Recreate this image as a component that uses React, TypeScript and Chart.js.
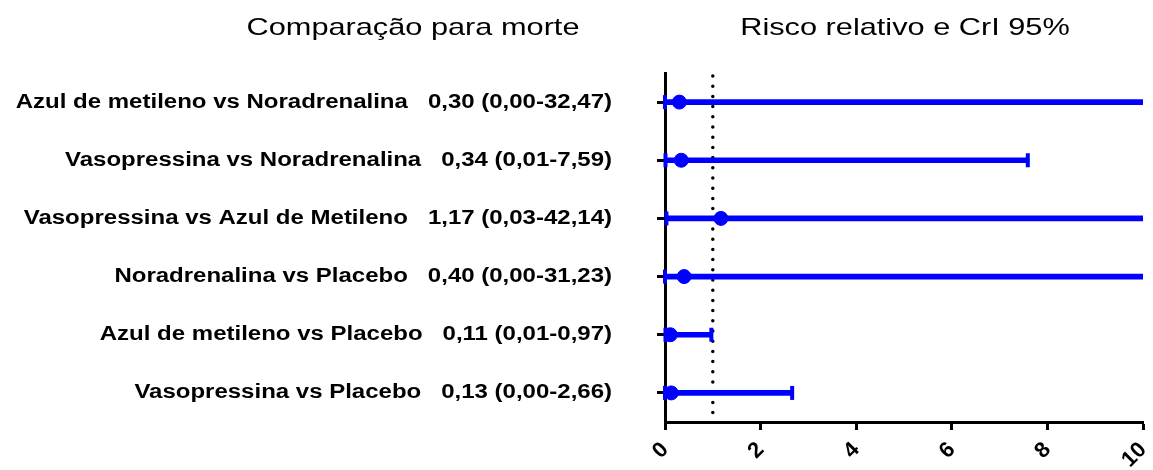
import React, { useEffect, useRef } from "react";
import { Chart, registerables } from "chart.js";

Chart.register(...registerables);

const categories = [
  "Azul de metileno vs Noradrenalina",
  "Vasopressina vs Noradrenalina",
  "Vasopressina vs Azul de Metileno",
  "Noradrenalina vs Placebo",
  "Azul de metileno vs Placebo",
  "Vasopressina vs Placebo",
];
const estimates = [0.3, 0.34, 1.17, 0.4, 0.11, 0.13];
const lowerCI = [0.0, 0.01, 0.03, 0.0, 0.01, 0.0];
const upperCI = [32.47, 7.59, 42.14, 31.23, 0.97, 2.66];
const xMin = 0;
const xMax = 10;
const xStep = 2;
const referenceValue = 1;
const leftTitle = "Comparação para morte";
const rightTitle = "Risco relativo e CrI 95%";

const BLUE = "#0000FF";
const FONT = "'Liberation Sans', Arial, sans-serif";
const Y_TICK_LEN = 8;
const Y_TICK_PAD = 45;
const Y_LABEL_STRETCH = 1.2;

const fmt = (v: number) => v.toFixed(2).replace(".", ",");
const rowLabels = categories.map(
  (c, i) => `${c}   ${fmt(estimates[i])} (${fmt(lowerCI[i])}-${fmt(upperCI[i])})`
);

const drawStretched = (ctx: any, text: string, cx: number, cy: number, sx: number) => {
  ctx.save();
  ctx.translate(cx, cy);
  ctx.scale(sx, 1);
  ctx.fillText(text, 0, 0);
  ctx.restore();
};

const forestPlugin = {
  id: "forest",
  beforeDraw(chart: any) {
    const ys = chart.scales.y;
    if (ys && !ys.__stretched) {
      const orig = ys.drawLabels.bind(ys);
      ys.drawLabels = (area: any) => {
        const ctx = chart.ctx;
        const ax = ys.right - Y_TICK_LEN - Y_TICK_PAD;
        ctx.save();
        ctx.translate(ax, 0);
        ctx.scale(Y_LABEL_STRETCH, 1);
        ctx.translate(-ax, 0);
        orig(area);
        ctx.restore();
      };
      ys.__stretched = true;
    }
  },
  beforeDatasetsDraw(chart: any) {
    const { ctx, chartArea, scales } = chart;
    const x = scales.x.getPixelForValue(referenceValue);
    ctx.save();
    ctx.strokeStyle = "#000";
    ctx.lineWidth = 3.5;
    ctx.lineCap = "round";
    ctx.setLineDash([0, 10.2]);
    ctx.beginPath();
    ctx.moveTo(x, chartArea.top + 3);
    ctx.lineTo(x, chartArea.bottom);
    ctx.stroke();
    ctx.restore();
  },
  afterDatasetsDraw(chart: any) {
    const { ctx, scales } = chart;
    const xs = scales.x;
    const ys = scales.y;
    ctx.save();
    ctx.fillStyle = BLUE;
    categories.forEach((_, i) => {
      const y = ys.getPixelForValue(i);
      [lowerCI[i], upperCI[i]].forEach((v) => {
        if (v >= xMin && v <= xMax) {
          const x = xs.getPixelForValue(v);
          ctx.fillRect(x - 2, y - 7, 4, 14);
        }
      });
    });
    ctx.restore();
  },
  afterDraw(chart: any) {
    const { ctx } = chart;
    ctx.save();
    ctx.fillStyle = "#000";
    ctx.font = `24px ${FONT}`;
    ctx.textAlign = "center";
    ctx.textBaseline = "middle";
    drawStretched(ctx, leftTitle, 413, 28, 1.28);
    drawStretched(ctx, rightTitle, 905, 28, 1.28);
    ctx.restore();
  },
};

export default function App() {
  const ref = useRef<HTMLCanvasElement>(null);
  useEffect(() => {
    if (!ref.current) return;
    const chart = new Chart(ref.current, {
      type: "bar",
      data: {
        labels: rowLabels,
        datasets: [
          {
            type: "line",
            label: "Risco relativo",
            data: estimates,
            showLine: false,
            pointRadius: 7,
            pointBackgroundColor: BLUE,
            pointBorderColor: BLUE,
            pointBorderWidth: 1,
            order: 0,
          } as any,
          {
            type: "bar",
            label: "CrI 95%",
            data: categories.map((_, i) => [lowerCI[i], upperCI[i]]),
            backgroundColor: BLUE,
            borderWidth: 0,
            barThickness: 5,
            order: 1,
          } as any,
        ],
      },
      options: {
        indexAxis: "y",
        responsive: false,
        animation: false,
        layout: { padding: { top: 73, right: 10, left: 0, bottom: 0 } },
        plugins: { legend: { display: false }, tooltip: { enabled: false } },
        scales: {
          x: {
            type: "linear",
            min: xMin,
            max: xMax,
            ticks: {
              stepSize: xStep,
              minRotation: 45,
              maxRotation: 45,
              color: "#000",
              padding: 7,
              font: { family: FONT, size: 22, weight: "bold" },
              callback: (v: any) => String(v),
            },
            grid: {
              drawOnChartArea: false,
              drawTicks: true,
              tickLength: 8,
              tickWidth: 3,
              tickColor: "#000",
            },
            border: { color: "#000", width: 3 },
            afterFit: (s: any) => {
              s.height = 48;
              s.paddingLeft = 0;
              s.paddingRight = 0;
              s.paddingTop = 0;
              s.paddingBottom = 0;
            },
          },
          y: {
            type: "category",
            offset: true,
            ticks: {
              color: "#000",
              padding: Y_TICK_PAD,
              font: { family: FONT, size: 20, weight: "bold" },
            },
            grid: {
              drawOnChartArea: false,
              drawTicks: true,
              tickLength: Y_TICK_LEN,
              tickWidth: 3,
              tickColor: "#000",
              offset: false,
            },
            border: { color: "#000", width: 3 },
            afterFit: (s: any) => {
              s.width = 665;
              s.paddingLeft = 0;
              s.paddingRight = 0;
              s.paddingTop = 0;
              s.paddingBottom = 0;
            },
          },
        },
      } as any,
      plugins: [forestPlugin],
    });
    return () => chart.destroy();
  }, []);
  return (
    <div style={{ position: "absolute", left: 0, top: 0, width: 1153, height: 470 }}>
      <canvas ref={ref} width={1153} height={470} style={{ display: "block" }} />
    </div>
  );
}
